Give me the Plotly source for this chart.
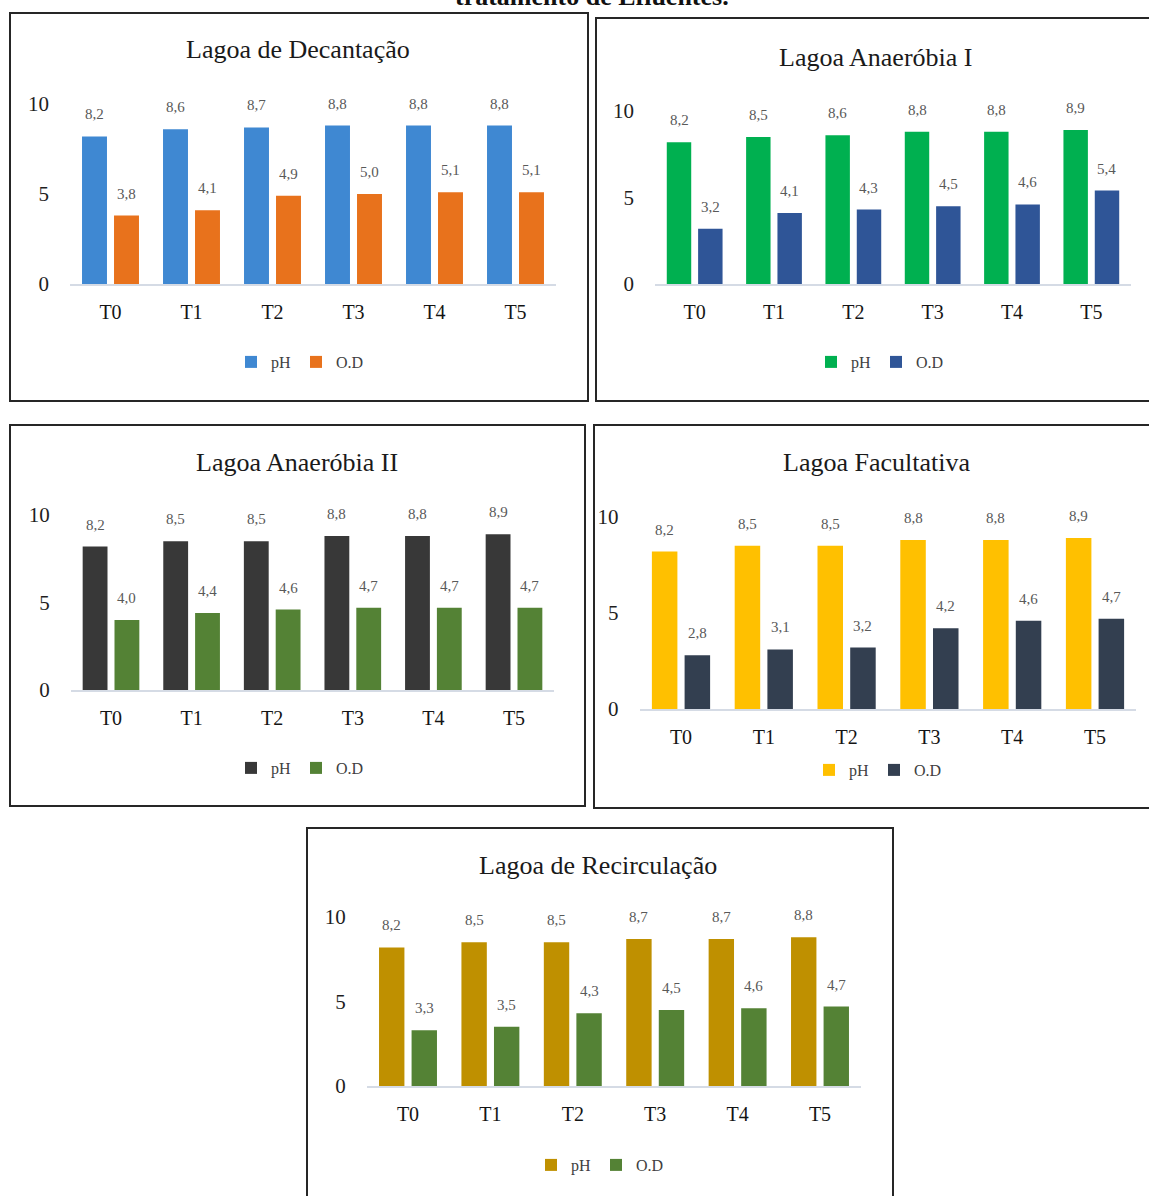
import plotly.graph_objects as go

W, H = 1149, 1196
FONT = "Liberation Serif"

categories = ["T0", "T1", "T2", "T3", "T4", "T5"]
series_names = ["pH", "O.D"]
titles = ["Lagoa de Decantação", "Lagoa Anaeróbia I", "Lagoa Anaeróbia II",
          "Lagoa Facultativa", "Lagoa de Recirculação"]

ph_decantacao = [8.2, 8.6, 8.7, 8.8, 8.8, 8.8]
od_decantacao = [3.8, 4.1, 4.9, 5.0, 5.1, 5.1]
ph_anaerobia1 = [8.2, 8.5, 8.6, 8.8, 8.8, 8.9]
od_anaerobia1 = [3.2, 4.1, 4.3, 4.5, 4.6, 5.4]
ph_anaerobia2 = [8.2, 8.5, 8.5, 8.8, 8.8, 8.9]
od_anaerobia2 = [4.0, 4.4, 4.6, 4.7, 4.7, 4.7]
ph_facultativa = [8.2, 8.5, 8.5, 8.8, 8.8, 8.9]
od_facultativa = [2.8, 3.1, 3.2, 4.2, 4.6, 4.7]
ph_recirculacao = [8.2, 8.5, 8.5, 8.7, 8.7, 8.8]
od_recirculacao = [3.3, 3.5, 4.3, 4.5, 4.6, 4.7]

y_ticks = [0, 5, 10]

data = [
    (ph_decantacao, od_decantacao),
    (ph_anaerobia1, od_anaerobia1),
    (ph_anaerobia2, od_anaerobia2),
    (ph_facultativa, od_facultativa),
    (ph_recirculacao, od_recirculacao),
]
colors = [
    ("#3f88d2", "#e8721c"),
    ("#00b050", "#2f5597"),
    ("#383838", "#548235"),
    ("#ffc000", "#333f50"),
    ("#bf9000", "#548235"),
]

# pixel layout of each panel
panels = [
    dict(box=(10, 13, 588, 401), x0=70, x1=556, y0=284, y10=104, title=(298, 50), legend=(300, 362)),
    dict(box=(596, 18, 1153, 401), x0=655, x1=1131, y0=284, y10=111, title=(875, 57), legend=(880, 362)),
    dict(box=(10, 425, 585, 806), x0=70.7, x1=554.3, y0=690, y10=515, title=(297, 462), legend=(300, 768)),
    dict(box=(594, 425, 1153, 808), x0=639.6, x1=1136.4, y0=709, y10=517, title=(876, 462), legend=(878, 770)),
    dict(box=(307, 828, 893, 1200), x0=366.8, x1=861.2, y0=1086, y10=917, title=(598, 865), legend=(600, 1165)),
]

BARGAP = 0.21
BARGROUPGAP = 0.22

fig = go.Figure()
shapes = []
annotations = []
layout = {}


def fmt(v):
    return f"{v:.1f}".replace(".", ",")


for i, (p, (ph, od), (c_ph, c_od), title) in enumerate(zip(panels, data, colors, titles)):
    n = "" if i == 0 else str(i + 1)
    xa, ya = "x" + n, "y" + n
    leg = "legend" + n
    for name, vals, col in ((series_names[0], ph, c_ph), (series_names[1], od, c_od)):
        fig.add_trace(go.Bar(
            x=categories, y=vals, name=name, xaxis=xa, yaxis=ya,
            marker=dict(color=col, line=dict(width=0)),
            legend=leg, cliponaxis=False, hoverinfo="x+y",
        ))
    layout["xaxis" + n] = dict(
        domain=[p["x0"] / W, p["x1"] / W], anchor=ya, range=[-0.5, 5.5],
        showline=True, linecolor="#d5dbe5", linewidth=1.5, ticks="",
        showgrid=False, zeroline=False, ticklabelstandoff=9, automargin=False,
        tickfont=dict(family=FONT, size=20, color="#141414"),
    )
    layout["yaxis" + n] = dict(
        domain=[1 - p["y0"] / H, 1 - p["y10"] / H], anchor=xa, range=[0, 10],
        tickvals=y_ticks, showgrid=False, zeroline=False, showline=False,
        ticks="", ticklabelstandoff=20, automargin=False,
        tickfont=dict(family=FONT, size=21, color="#1e1e1e"),
    )
    layout[leg] = dict(
        orientation="h", x=p["legend"][0] / W, y=1 - p["legend"][1] / H,
        xanchor="center", yanchor="middle", itemwidth=30,
        font=dict(family=FONT, size=16, color="#404040"),
        bgcolor="rgba(0,0,0,0)", traceorder="normal", tracegroupgap=0,
    )
    bx0, by0, bx1, by1 = p["box"]
    shapes.append(dict(type="rect", xref="paper", yref="paper",
                       x0=bx0 / W, x1=bx1 / W, y0=1 - by1 / H, y1=1 - by0 / H,
                       line=dict(color="#262626", width=2), fillcolor="rgba(0,0,0,0)"))
    annotations.append(dict(
        text=title, xref="paper", yref="paper", x=p["title"][0] / W, y=1 - p["title"][1] / H,
        xanchor="center", yanchor="middle", showarrow=False,
        font=dict(family=FONT, size=26, color="#1a1a1a"),
    ))
    spacing = (p["x1"] - p["x0"]) / 6
    slot = spacing * (1 - BARGAP) / 2
    for vals, shift in ((ph, -slot / 2), (od, slot / 2)):
        for cat, v in zip(categories, vals):
            annotations.append(dict(
                text=fmt(v), xref=xa, yref=ya, x=cat, y=v, xshift=shift, yshift=22,
                showarrow=False, xanchor="center", yanchor="middle",
                font=dict(family=FONT, size=15, color="#595959"),
            ))

# caption of the page, cut off at the top edge as in the source image
annotations.append(dict(
    text="<b>tratamento de Efluentes.</b>", xref="paper", yref="paper",
    x=592 / W, y=1 - 13 / H, xanchor="center", yanchor="bottom", showarrow=False,
    font=dict(family=FONT, size=26, color="#111111"),
))

fig.update_layout(
    width=W, height=H, margin=dict(l=0, r=0, t=0, b=0, autoexpand=False),
    paper_bgcolor="white", plot_bgcolor="white",
    barmode="group", bargap=BARGAP, bargroupgap=BARGROUPGAP,
    showlegend=True, shapes=shapes, annotations=annotations,
    **layout,
)

fig.write_html("out.html", config={"displayModeBar": False},
               post_script="document.body.style.margin='0';document.body.style.overflow='hidden';")
